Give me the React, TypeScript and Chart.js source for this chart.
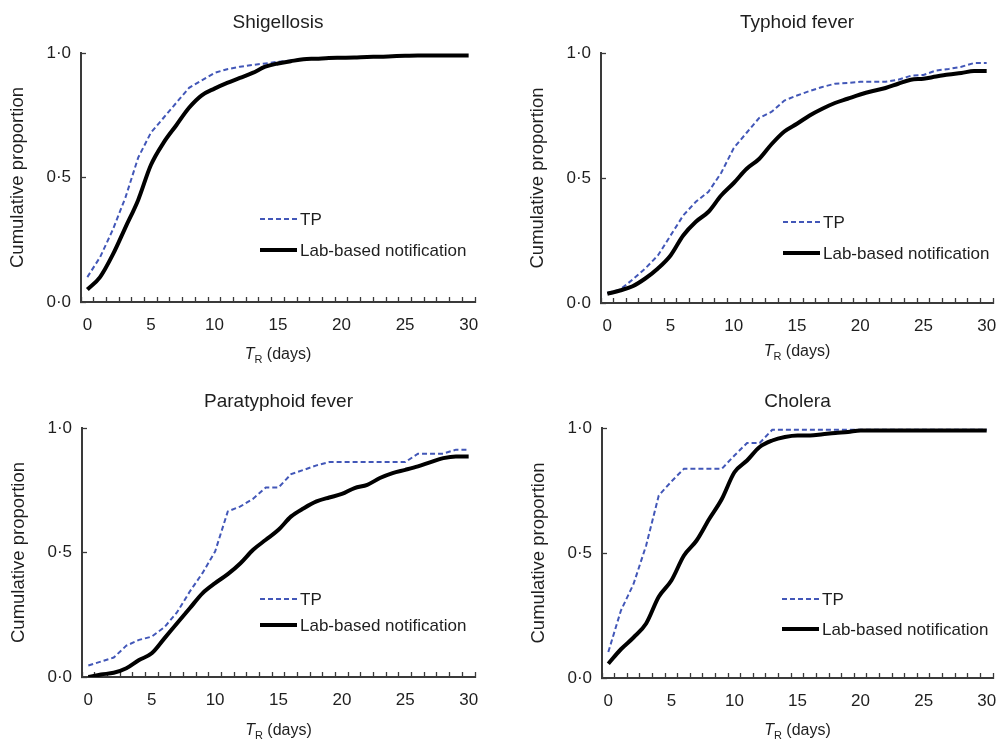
import React, { useEffect, useRef } from 'react';
import { Chart, registerables } from 'chart.js';

Chart.register(...registerables);

const days = ['0','1','2','3','4','5','6','7','8','9','10','11','12','13','14','15','16','17','18','19','20','21','22','23','24','25','26','27','28','29','30'];
const yTickValues = [0, 0.5, 1];
const yTickLabels = ['0·0', '0·5', '1·0'];
const seriesNames = ['TP', 'Lab-based notification'];

const shigellosisTP = [0.10,0.18,0.29,0.42,0.58,0.68,0.74,0.80,0.86,0.89,0.92,0.935,0.945,0.952,0.958,0.965,0.97,0.975,0.977,0.98,0.981,0.982,0.984,0.985,0.987,0.989,0.99,0.99,0.99,0.99,0.99];
const shigellosisLab = [0.05,0.10,0.19,0.30,0.41,0.55,0.64,0.71,0.78,0.83,0.857,0.88,0.90,0.92,0.945,0.958,0.967,0.975,0.977,0.98,0.981,0.982,0.984,0.985,0.987,0.989,0.99,0.99,0.99,0.99,0.99];

const typhoidTP = [0.04,0.053,0.094,0.138,0.19,0.27,0.35,0.405,0.445,0.52,0.62,0.68,0.74,0.765,0.81,0.83,0.848,0.864,0.877,0.88,0.885,0.885,0.885,0.893,0.909,0.912,0.93,0.936,0.945,0.96,0.96];
const typhoidLab = [0.037,0.05,0.067,0.098,0.138,0.19,0.27,0.325,0.365,0.43,0.48,0.536,0.576,0.636,0.686,0.717,0.75,0.777,0.80,0.817,0.834,0.848,0.86,0.877,0.893,0.897,0.906,0.914,0.92,0.928,0.928];

const paratyphoidTP = [0.046,0.062,0.078,0.126,0.149,0.162,0.20,0.26,0.343,0.417,0.504,0.665,0.685,0.716,0.761,0.761,0.815,0.832,0.85,0.863,0.863,0.863,0.863,0.863,0.863,0.863,0.897,0.897,0.897,0.913,0.913];
const paratyphoidLab = [0.0,0.01,0.017,0.035,0.068,0.095,0.155,0.216,0.276,0.336,0.377,0.413,0.457,0.511,0.551,0.591,0.645,0.678,0.705,0.721,0.735,0.759,0.772,0.799,0.819,0.832,0.846,0.863,0.879,0.886,0.886];

const choleraTP = [0.104,0.27,0.376,0.53,0.73,0.786,0.837,0.837,0.837,0.837,0.89,0.94,0.94,0.993,0.993,0.993,0.993,0.993,0.993,0.993,0.993,0.993,0.993,0.993,0.993,0.993,0.993,0.993,0.993,0.993,0.993];
const choleraLab = [0.057,0.115,0.162,0.218,0.325,0.39,0.49,0.55,0.636,0.716,0.823,0.87,0.924,0.95,0.964,0.97,0.97,0.975,0.98,0.984,0.99,0.99,0.99,0.99,0.99,0.99,0.99,0.99,0.99,0.99,0.99];

const FONT = "'Liberation Sans', Arial, Helvetica, sans-serif";
const TEXT = '#1e1e1e';
const AXIS = '#3a3a3a';
const BLUE = '#4257b8';

type Panel = {
  title: string;
  tp: number[];
  lab: number[];
  x: number; y: number; w: number; h: number;
  area: { l: number; r: number; t: number; b: number };
  titleY: number;
  xTitleY: number;
  leg: { dx: number; dy1: number; dy2: number };
};

const panels: Panel[] = [
  { title: 'Shigellosis', tp: shigellosisTP, lab: shigellosisLab, x: 0, y: 0, w: 498, h: 372,
    area: { l: 81, r: 475, t: 53, b: 302 }, titleY: 23, xTitleY: 355, leg: { dx: 179, dy1: 166, dy2: 197 } },
  { title: 'Typhoid fever', tp: typhoidTP, lab: typhoidLab, x: 498, y: 0, w: 498, h: 372,
    area: { l: 103, r: 495, t: 53, b: 303 }, titleY: 23, xTitleY: 352, leg: { dx: 182, dy1: 169, dy2: 200 } },
  { title: 'Paratyphoid fever', tp: paratyphoidTP, lab: paratyphoidLab, x: 0, y: 372, w: 498, h: 371,
    area: { l: 82, r: 475, t: 56, b: 305 }, titleY: 30, xTitleY: 359, leg: { dx: 178, dy1: 171, dy2: 197 } },
  { title: 'Cholera', tp: choleraTP, lab: choleraLab, x: 498, y: 372, w: 498, h: 371,
    area: { l: 104, r: 495, t: 56, b: 306 }, titleY: 30, xTitleY: 359, leg: { dx: 180, dy1: 171, dy2: 201 } },
];

function PanelChart({ p }: { p: Panel }) {
  const ref = useRef<HTMLCanvasElement | null>(null);
  useEffect(() => {
    if (!ref.current) return;
    const titleSize = 19;
    const titleLH = titleSize * 1.2;
    const tPadTop = p.titleY - titleLH / 2;
    const tPadBottom = p.area.t - tPadTop - titleLH;

    const extras = {
      id: 'extras',
      afterDraw(chart: any) {
        const ctx = chart.ctx;
        const ca = chart.chartArea;
        ctx.save();
        // legend
        const lx = ca.left + p.leg.dx;
        const rows = [
          { y: ca.top + p.leg.dy1, color: BLUE, width: 2, dash: [5, 3] },
          { y: ca.top + p.leg.dy2, color: '#000', width: 4, dash: [] as number[] },
        ];
        rows.forEach((r, i) => {
          ctx.beginPath();
          ctx.setLineDash(r.dash);
          ctx.strokeStyle = r.color;
          ctx.lineWidth = r.width;
          ctx.moveTo(lx, r.y);
          ctx.lineTo(lx + 37, r.y);
          ctx.stroke();
          ctx.setLineDash([]);
          ctx.fillStyle = TEXT;
          ctx.font = `17px ${FONT}`;
          ctx.textBaseline = 'middle';
          ctx.textAlign = 'left';
          ctx.fillText(seriesNames[i], lx + 40, r.y + 1);
        });
        // x axis title: T_R (days)
        const cx = (ca.left + ca.right) / 2;
        const y = p.xTitleY;
        ctx.textBaseline = 'middle';
        ctx.font = `italic 16px ${FONT}`;
        const wT = ctx.measureText('T').width;
        ctx.font = `11px ${FONT}`;
        const wR = ctx.measureText('R').width;
        ctx.font = `16px ${FONT}`;
        const wD = ctx.measureText(' (days)').width;
        let sx = cx - (wT + wR + wD) / 2;
        ctx.fillStyle = TEXT;
        ctx.font = `italic 16px ${FONT}`;
        ctx.fillText('T', sx, y);
        sx += wT;
        ctx.font = `11px ${FONT}`;
        ctx.fillText('R', sx, y + 5);
        sx += wR;
        ctx.font = `16px ${FONT}`;
        ctx.fillText(' (days)', sx, y);
        ctx.restore();
      },
    };

    const chart = new Chart(ref.current, {
      type: 'line',
      data: {
        labels: days,
        datasets: [
          {
            label: seriesNames[0], data: p.tp, borderColor: BLUE, borderWidth: 2,
            borderDash: [5, 3], pointRadius: 0, tension: 0, fill: false, order: 1,
          },
          {
            label: seriesNames[1], data: p.lab, borderColor: '#000', borderWidth: 4,
            pointRadius: 0, cubicInterpolationMode: 'monotone', fill: false, order: 0,
          },
        ],
      },
      options: {
        responsive: false,
        animation: false,
        events: [],
        layout: { padding: { left: p.area.l - 81, right: p.w - p.area.r, top: 0, bottom: 0 } },
        plugins: {
          legend: { display: false },
          tooltip: { enabled: false },
          title: {
            display: true, text: p.title, fullSize: false, color: TEXT,
            font: { family: FONT, size: titleSize, weight: 'normal', lineHeight: 1.2 },
            padding: { top: tPadTop, bottom: tPadBottom },
          },
        },
        scales: {
          x: {
            type: 'category',
            offset: true,
            grid: { offset: true, drawOnChartArea: false, tickLength: -5, color: AXIS, tickWidth: 1.3 },
            border: { color: AXIS, width: 2 },
            ticks: {
              autoSkip: false, maxRotation: 0, minRotation: 0, padding: 18, color: TEXT,
              font: { family: FONT, size: 17 },
              callback: (_v: any, i: number) => (i % 5 === 0 ? days[i] : ''),
            },
            afterFit: (s: any) => { s.height = p.h - p.area.b; s.paddingLeft = 0; s.paddingRight = 0; },
          },
          y: {
            min: 0, max: 1,
            afterBuildTicks: (s: any) => { s.ticks = yTickValues.map((v) => ({ value: v })); },
            grid: { drawOnChartArea: false, tickLength: -5, color: AXIS, tickWidth: 1.3 },
            border: { color: AXIS, width: 2 },
            ticks: {
              padding: 15, color: TEXT, font: { family: FONT, size: 17 },
              callback: (v: any) => yTickLabels[yTickValues.indexOf(Number(v))] ?? '',
            },
            title: {
              display: true, text: 'Cumulative proportion', color: TEXT,
              font: { family: FONT, size: 18.5, lineHeight: 1.2 },
              padding: { top: 7, bottom: 0 },
            },
            afterFit: (s: any) => { s.width = 81; s.paddingTop = 0; s.paddingBottom = 0; },
          },
        },
      } as any,
      plugins: [extras],
    });
    return () => chart.destroy();
  }, [p]);

  return (
    <canvas
      ref={ref}
      width={p.w}
      height={p.h}
      style={{ position: 'absolute', left: p.x, top: p.y, width: p.w, height: p.h, display: 'block' }}
    />
  );
}

export default function App() {
  return (
    <div style={{ position: 'absolute', left: 0, top: 0, width: 996, height: 743, background: '#fff', overflow: 'hidden' }}>
      {panels.map((p) => (
        <PanelChart key={p.title} p={p} />
      ))}
    </div>
  );
}
